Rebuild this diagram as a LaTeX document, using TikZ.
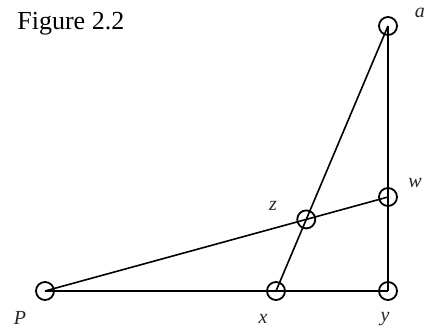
\documentclass[tikz,border=0pt]{standalone}
\usepackage{fontspec}
\setmainfont{Liberation Serif}
\usetikzlibrary{calc,positioning}

\begin{document}
\begin{tikzpicture}[
    x=0.5pt, y=-0.5pt,
    pt/.style={circle, draw, line width=0.9pt, minimum size=9pt, inner sep=0pt},
    edge/.style={line width=0.8pt},
    lbl/.style={font=\fontsize{10}{12}\selectfont\itshape, text=black!85, inner sep=0pt}
]
\useasboundingbox (0,0) rectangle (430,329);
% points
\coordinate (P) at (45,291);
\coordinate (x) at (276,291);
\coordinate (y) at (388,291);
\coordinate (w) at (388,197);
\coordinate (a) at (388,26);
\coordinate (z) at (intersection of P--w and x--a);
% lines
\draw[edge] (P) -- (y);
\draw[edge] (P) -- (w);
\draw[edge] (x) -- (a);
\draw[edge] (y) -- (a);
% circles
\node[pt] (nP) at (P) {};
\node[pt] (nx) at (x) {};
\node[pt] (ny) at (y) {};
\node[pt] (nw) at (w) {};
\node[pt] (na) at (a) {};
\node[pt] (nz) at (z) {};
% labels
\node[lbl] at (420,13) {a};
\node[lbl] at (415,183) {w};
\node[lbl] at (273,206) {z};
\node[lbl] at (20,318) {P};
\node[lbl] at (263,319) {x};
\node[lbl] at (385,319) {y};
\node[anchor=base west, inner sep=0pt, font=\fontsize{13}{15}\selectfont] at (17,29) {Figure 2.2};
\end{tikzpicture}
\end{document}
